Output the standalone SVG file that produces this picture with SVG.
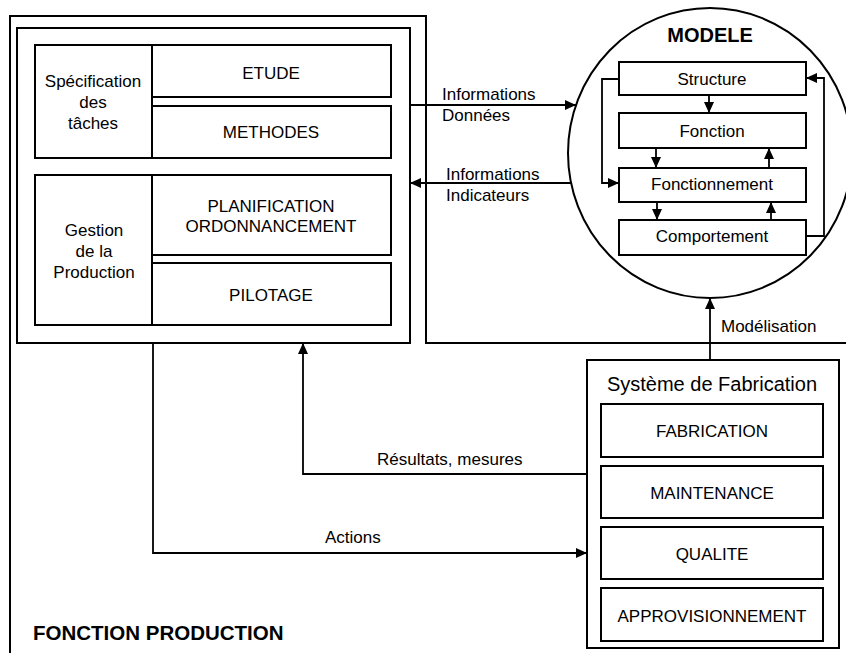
<svg xmlns="http://www.w3.org/2000/svg" width="846" height="653" viewBox="0 0 846 653">
<style>
.box{fill:none;stroke:#000;stroke-width:2}
.ln{fill:none;stroke:#000;stroke-width:1.8}
text{font-family:"Liberation Sans",Arial,sans-serif;font-size:17px;fill:#000}
.c{text-anchor:middle}
.b{font-weight:bold}
</style>
<defs>
<marker id="ah" markerUnits="userSpaceOnUse" markerWidth="12" markerHeight="10" refX="11" refY="5" orient="auto">
<path d="M0,0 L11,5 L0,10 z" fill="#000"/>
</marker>
</defs>
<rect width="846" height="653" fill="#fff"/>

<g id="fonction-production">
<path class="box" d="M10,653 V16 H426 V343 H846"/>
<rect class="box" x="17" y="28" width="393" height="315"/>
<text class="b" x="33" y="640" style="font-size:20.5px">FONCTION PRODUCTION</text>
</g>

<g id="specification">
<rect class="box" x="35" y="45" width="117" height="113"/>
<text class="c" x="93" y="87">Spécification</text>
<text class="c" x="93" y="108">des</text>
<text class="c" x="93" y="129">tâches</text>
</g>
<g id="etude">
<rect class="box" x="152" y="45" width="239" height="52"/>
<text class="c" x="271" y="79">ETUDE</text>
</g>
<g id="methodes">
<rect class="box" x="152" y="106" width="239" height="52"/>
<text class="c" x="271" y="138">METHODES</text>
</g>

<g id="gestion">
<rect class="box" x="35" y="175" width="117" height="150"/>
<text class="c" x="94" y="236">Gestion</text>
<text class="c" x="94" y="257">de la</text>
<text class="c" x="94" y="278">Production</text>
</g>
<g id="planification">
<rect class="box" x="152" y="175" width="239" height="80"/>
<text class="c" x="271" y="212">PLANIFICATION</text>
<text class="c" x="271" y="232">ORDONNANCEMENT</text>
</g>
<g id="pilotage">
<rect class="box" x="152" y="263" width="239" height="62"/>
<text class="c" x="271" y="301">PILOTAGE</text>
</g>

<g id="modele">
<ellipse class="box" cx="710" cy="153" rx="142" ry="145"/>
<text class="c b" x="710" y="42" style="font-size:20px">MODELE</text>
</g>
<g id="structure">
<rect class="box" x="619" y="62" width="187" height="33"/>
<text class="c" x="712" y="85">Structure</text>
</g>
<g id="fonction">
<rect class="box" x="619" y="113" width="187" height="35"/>
<text class="c" x="712" y="137">Fonction</text>
</g>
<g id="fonctionnement">
<rect class="box" x="619" y="168" width="187" height="34"/>
<text class="c" x="712" y="190">Fonctionnement</text>
</g>
<g id="comportement">
<rect class="box" x="619" y="220" width="187" height="35"/>
<text class="c" x="712" y="242">Comportement</text>
</g>

<g id="systeme-fabrication">
<rect class="box" x="587" y="360" width="252" height="288"/>
<text class="c" x="712" y="391" style="font-size:20px">Système de Fabrication</text>
</g>
<g id="fabrication">
<rect class="box" x="601" y="404" width="222" height="53"/>
<text class="c" x="712" y="437">FABRICATION</text>
</g>
<g id="maintenance">
<rect class="box" x="601" y="466" width="222" height="52"/>
<text class="c" x="712" y="499">MAINTENANCE</text>
</g>
<g id="qualite">
<rect class="box" x="601" y="527" width="222" height="52"/>
<text class="c" x="712" y="560">QUALITE</text>
</g>
<g id="approvisionnement">
<rect class="box" x="601" y="588" width="222" height="53"/>
<text class="c" x="712" y="622">APPROVISIONNEMENT</text>
</g>

<g id="connectors">
<path class="ln" d="M709,95 V113" marker-end="url(#ah)"/>
<path class="ln" d="M656,148 V168" marker-end="url(#ah)"/>
<path class="ln" d="M769,168 V148" marker-end="url(#ah)"/>
<path class="ln" d="M657,202 V220" marker-end="url(#ah)"/>
<path class="ln" d="M771,220 V202" marker-end="url(#ah)"/>
<path class="ln" d="M619,79 H602 V183 H619" marker-end="url(#ah)"/>
<path class="ln" d="M806,236 H824 V78 H806" marker-end="url(#ah)"/>
<path class="ln" d="M410,105 H576" marker-end="url(#ah)"/>
<path class="ln" d="M571,183 H410" marker-end="url(#ah)"/>
<path class="ln" d="M710,360 V298" marker-end="url(#ah)"/>
<path class="ln" d="M587,474 H303 V343" marker-end="url(#ah)"/>
<path class="ln" d="M153,343 V553 H587" marker-end="url(#ah)"/>
<text x="442" y="100">Informations</text>
<text x="442" y="121">Données</text>
<text x="446" y="180">Informations</text>
<text x="446" y="201">Indicateurs</text>
<text x="721" y="332">Modélisation</text>
<text x="377" y="465">Résultats, mesures</text>
<text x="325" y="543">Actions</text>
</g>
</svg>
